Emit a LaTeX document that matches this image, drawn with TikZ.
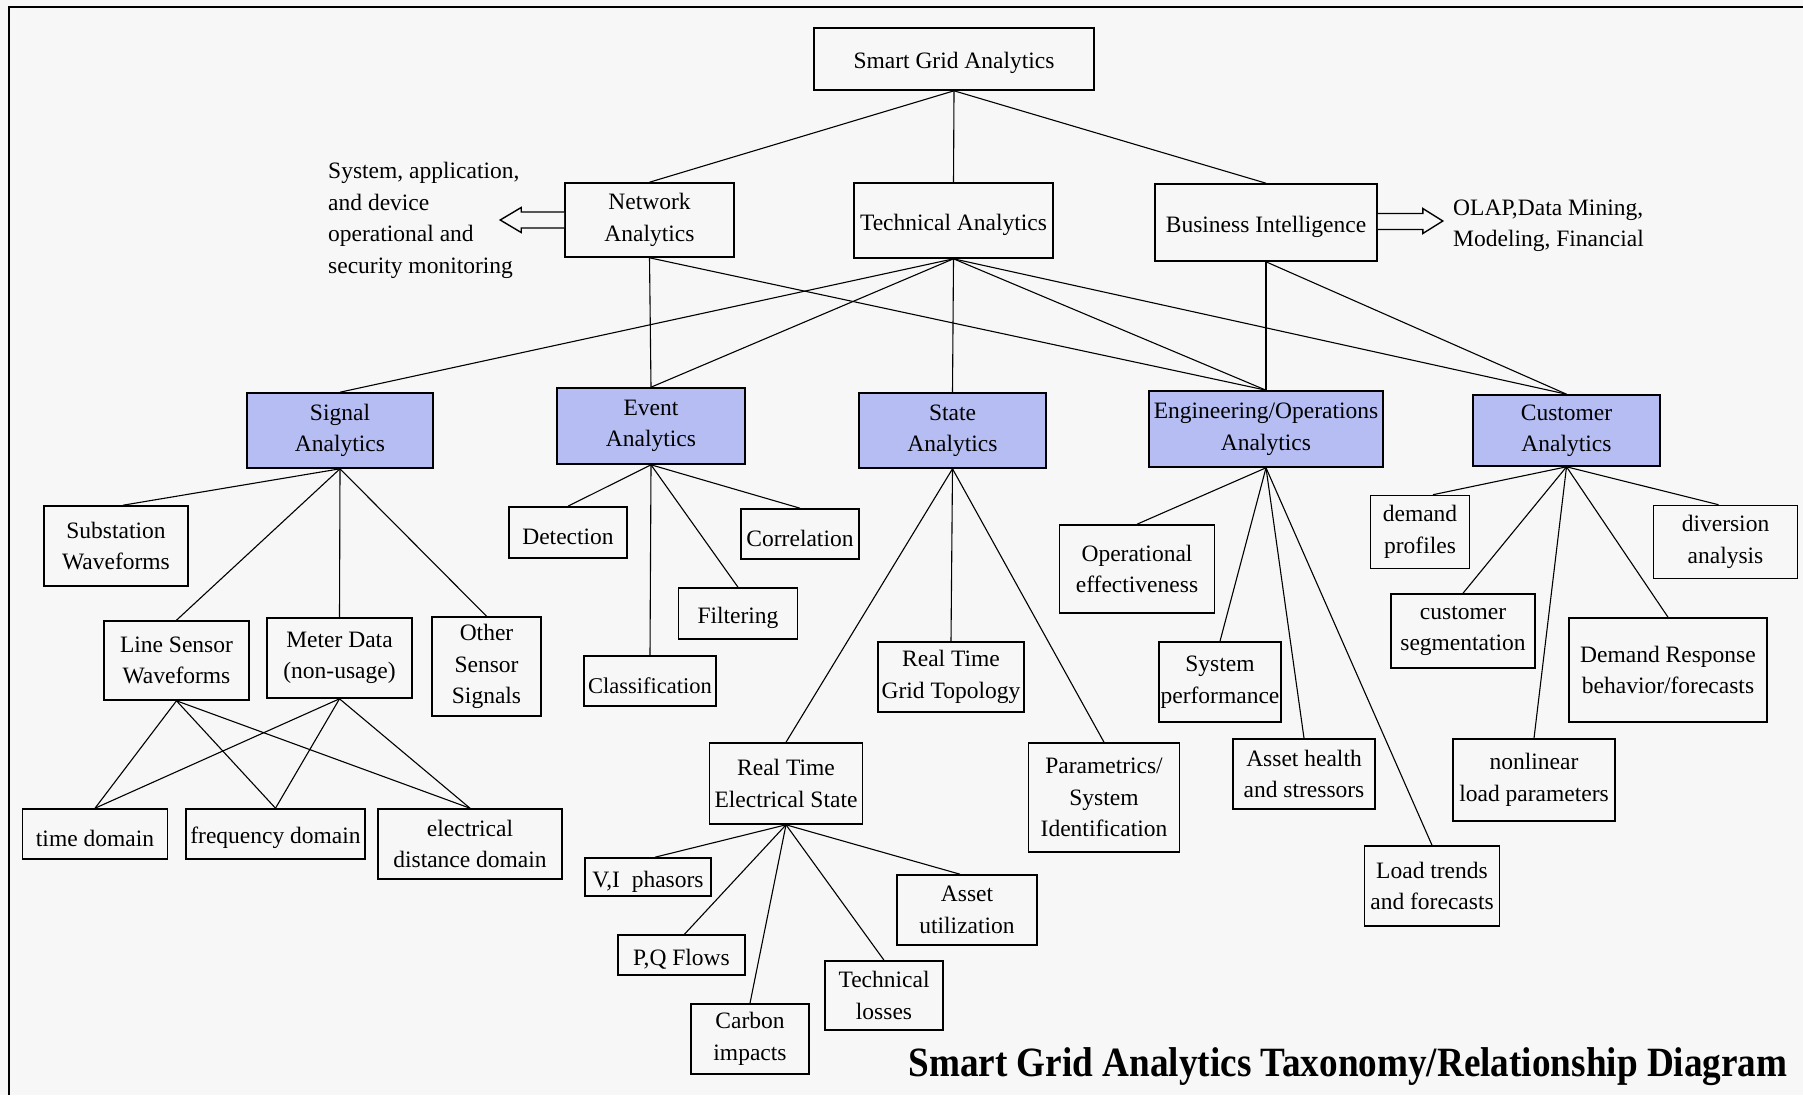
\documentclass[tikz,border=0pt]{standalone}
\usepackage{fontspec}
\setmainfont{Liberation Serif}
\usetikzlibrary{calc}
\definecolor{bg}{RGB}{247,247,247}
\definecolor{blu}{RGB}{181,189,243}
\newcommand\boxfont{\fontsize{23.5}{31.5}\selectfont}
\newcommand\smallboxfont{\fontsize{22.5}{31.5}\selectfont}
\newcommand\titlefont{\fontsize{37.2}{40}\selectfont\bfseries}
\begin{document}
\begin{tikzpicture}[x=1pt,y=-1pt,
  box/.style={draw, line width=1.6pt, fill=bg, inner sep=0pt, align=center, font=\boxfont,
    execute at begin node={\rule{0pt}{25pt}}},
  cat/.style={box, fill=blu},
  link/.style={line width=1.1pt},
  fat/.style={draw, line width=1.4pt, fill=bg, line join=miter},
  note/.style={inner sep=0pt, align=left, font=\boxfont}]
\useasboundingbox (0,0) rectangle (1803,1095);
\fill[bg] (0,0) rectangle (1803,1095);
% frame along the top and left edges
\draw[line width=2.2pt] (9,1095) -- (9,7) -- (1803,7);

% root and first level
\node[box, minimum width=280pt, minimum height=62pt] (sga) at (954,59) {Smart Grid Analytics};
\node[box, minimum width=169pt, minimum height=74pt] (net) at (649.5,220) {Network\\Analytics};
\node[box, minimum width=199pt, minimum height=75pt] (tech) at (953.5,220.5) {Technical Analytics};
\node[box, minimum width=222pt, minimum height=77pt] (bi) at (1266,222.5) {Business Intelligence};

\node[note, anchor=west] (mon) at (328,220.5) {System, application,\\and device\\operational and\\security monitoring};
\node[note, anchor=west] (olap) at (1453,226) {OLAP,Data Mining,\\Modeling, Financial};

% analytics categories
\node[cat, minimum width=186pt, minimum height=75pt] (sig) at (340,430.5) {Signal\\Analytics};
\node[cat, minimum width=188pt, minimum height=76pt] (evt) at (651,426) {Event\\Analytics};
\node[cat, minimum width=187pt, minimum height=75pt] (sta) at (952.5,430.5) {State\\Analytics};
\node[cat, minimum width=234pt, minimum height=76pt] (eng) at (1266,429) {Engineering/Operations\\Analytics};
\node[cat, minimum width=187pt, minimum height=71pt] (cus) at (1566.5,430.5) {Customer\\Analytics};

% signal analytics
\node[box, minimum width=144pt, minimum height=80pt] (sub) at (116,546) {Substation\\Waveforms};
\node[box, minimum width=145pt, minimum height=79pt] (lsw) at (176.5,660.5) {Line Sensor\\Waveforms};
\node[box, minimum width=145pt, minimum height=80pt] (met) at (339.5,658) {Meter Data\\(non-usage)};
\node[box, minimum width=109pt, minimum height=99pt] (oss) at (486.5,666.5) {Other\\Sensor\\Signals};
\node[box, minimum width=145pt, minimum height=50pt] (tdo) at (95,834) {time domain};
\node[box, minimum width=179pt, minimum height=50pt] (fdo) at (275.5,834) {frequency domain};
\node[box, minimum width=184pt, minimum height=70pt] (edd) at (470,844) {electrical\\distance domain};

% event analytics
\node[box, minimum width=118pt, minimum height=51pt] (det) at (568,532.5) {Detection};
\node[box, minimum width=118pt, minimum height=50pt] (cor) at (800,534) {Correlation};
\node[box, minimum width=119pt, minimum height=51pt] (fil) at (738,613.5) {Filtering};
\node[box, minimum width=132pt, minimum height=50pt, font=\smallboxfont] (cla) at (650,681) {Classification};

% state analytics
\node[box, minimum width=153pt, minimum height=81pt] (rtes) at (786,783.5) {Real Time\\Electrical State};
\node[box, minimum width=146pt, minimum height=70pt] (rtgt) at (951,677) {Real Time\\Grid Topology};
\node[box, minimum width=151pt, minimum height=109pt] (par) at (1104,797.5) {Parametrics/\\System\\Identification};
\node[box, minimum width=126pt, minimum height=38pt] (vip) at (648,877) {V,I\ \ phasors};
\node[box, minimum width=127pt, minimum height=40pt] (pqf) at (681.5,955) {P,Q Flows};
\node[box, minimum width=118pt, minimum height=70pt] (cim) at (750,1039) {Carbon\\impacts};
\node[box, minimum width=118pt, minimum height=69pt] (tlo) at (884,995.5) {Technical\\losses};
\node[box, minimum width=140pt, minimum height=70pt] (aut) at (967,910) {Asset\\utilization};

% engineering / operations analytics
\node[box, minimum width=155pt, minimum height=88pt] (ope) at (1137,569) {Operational\\effectiveness};
\node[box, minimum width=122pt, minimum height=80pt] (syp) at (1220,682) {System\\performance};
\node[box, minimum width=142pt, minimum height=70pt] (ash) at (1304,774) {Asset health\\and stressors};
\node[box, minimum width=135pt, minimum height=80pt] (ltf) at (1432,886) {Load trends\\and forecasts};

% customer analytics
\node[box, minimum width=99pt, minimum height=73pt] (dpr) at (1420,532) {demand\\profiles};
\node[box, minimum width=144pt, minimum height=73pt] (div) at (1725.5,542) {diversion\\analysis};
\node[box, minimum width=144pt, minimum height=74pt] (cse) at (1463,631) {customer\\segmentation};
\node[box, minimum width=198pt, minimum height=104pt] (drb) at (1668,670) {Demand Response\\behavior/forecasts};
\node[box, minimum width=162pt, minimum height=82pt] (nlp) at (1534,780) {nonlinear\\load parameters};

% title
\node[anchor=base, inner sep=0pt, font=\titlefont] (title) at (1348,1076) {\scalebox{1}[1.12]{Smart Grid Analytics Taxonomy/Relationship Diagram}};

% hollow block arrows
\draw[fat, shift={(net.west)}] (0,-8) -- (-43,-8) -- (-43,-12.5) -- (-64,0) -- (-43,12.5) -- (-43,8) -- (0,8);
\draw[fat, shift={(bi.east)}] (0,-9) -- (45,-9) -- (45,-14) -- (65,-1.5) -- (45,11) -- (45,7) -- (0,7);

% connectors
\begin{scope}[link]
\draw (sga.south) -- (net.north);
\draw (sga.south) -- (tech.north);
\draw (sga.south) -- (bi.north);

\draw (net.south) -- (evt.north);
\draw (net.south) -- (eng.north);
\draw (tech.south) -- (sig.north);
\draw (tech.south) -- (evt.north);
\draw (tech.south) -- (sta.north);
\draw (tech.south) -- (eng.north);
\draw (tech.south) -- (cus.north);
\draw (bi.south) -- (eng.north);
\draw (bi.south) -- (cus.north);

\draw (sig.south) -- ([xshift=7pt]sub.north);
\draw (sig.south) -- (lsw.north);
\draw (sig.south) -- (met.north);
\draw (sig.south) -- (oss.north);
\foreach \s in {lsw,met}
  \foreach \t in {tdo,fdo,edd}
    \draw (\s.south) -- (\t.north);

\draw (evt.south) -- (det.north);
\draw (evt.south) -- (cla.north);
\draw (evt.south) -- (fil.north);
\draw (evt.south) -- (cor.north);

\draw (sta.south) -- (rtes.north);
\draw (sta.south) -- (rtgt.north);
\draw (sta.south) -- (par.north);
\draw (rtes.south) -- ([xshift=7pt]vip.north);
\draw (rtes.south) -- ([xshift=3pt]pqf.north);
\draw (rtes.south) -- (cim.north);
\draw (rtes.south) -- (tlo.north);
\draw (rtes.south) -- ([xshift=-7pt]aut.north);

\draw (eng.south) -- (ope.north);
\draw (eng.south) -- (syp.north);
\draw (eng.south) -- (ash.north);
\draw (eng.south) -- (ltf.north);

\draw (cus.south) -- ([xshift=13pt]dpr.north);
\draw (cus.south) -- (cse.north);
\draw (cus.south) -- (nlp.north);
\draw (cus.south) -- (drb.north);
\draw (cus.south) -- ([xshift=-7pt]div.north);
\end{scope}
\end{tikzpicture}
\end{document}
